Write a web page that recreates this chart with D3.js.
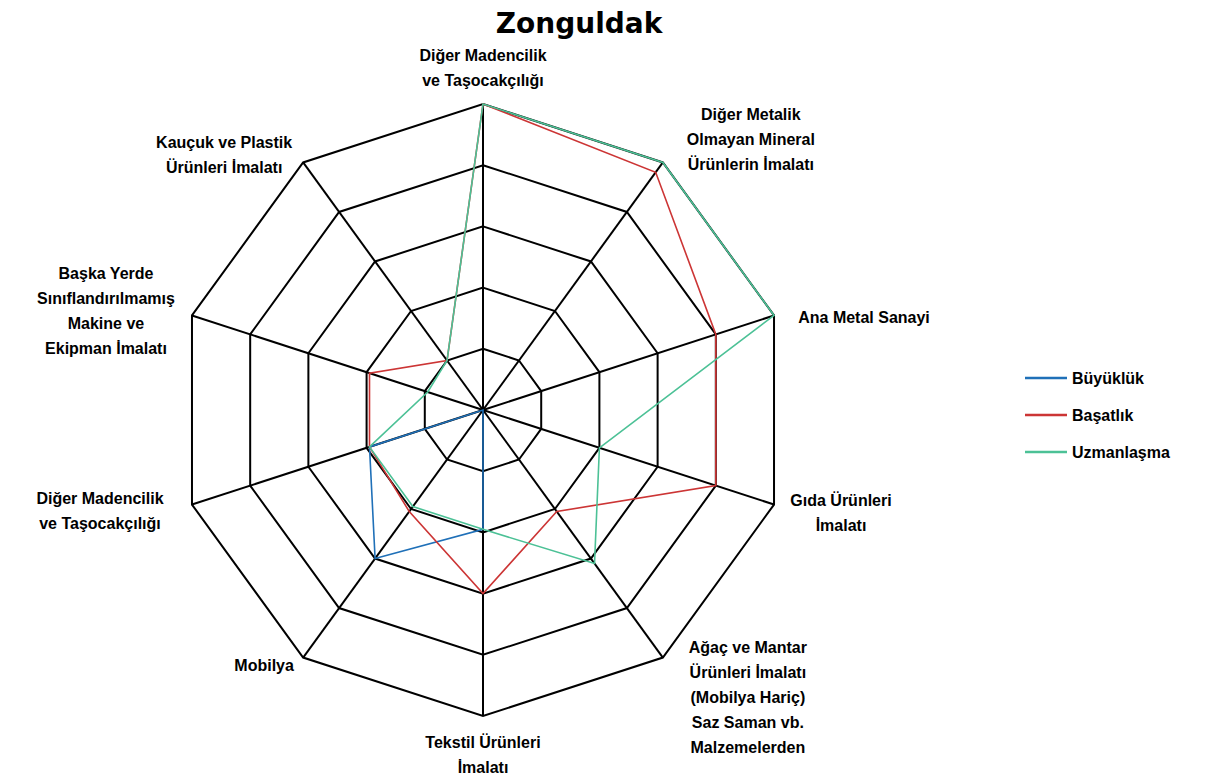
<!DOCTYPE html>
<html><head><meta charset="utf-8">
<script src="https://cdn.jsdelivr.net/npm/d3@7"></script>
<style>
body{margin:0;background:#fff}
text{font-family:"Liberation Sans",Arial,sans-serif;font-weight:bold;fill:#000}
</style>
</head><body>
<svg id="chart" width="1208" height="780"></svg>
<script>
// ---- data ----
const title = "Zonguldak";
const categories = [
  ["Diğer Madencilik","ve Taşocakçılığı"],
  ["Diğer Metalik","Olmayan Mineral","Ürünlerin İmalatı"],
  ["Ana Metal Sanayi"],
  ["Gıda Ürünleri","İmalatı"],
  ["Ağaç ve Mantar","Ürünleri İmalatı","(Mobilya Hariç)","Saz Saman vb.","Malzemelerden"],
  ["Tekstil Ürünleri","İmalatı"],
  ["Mobilya"],
  ["Diğer Madencilik","ve Taşocakçılığı"],
  ["Başka Yerde","Sınıflandırılmamış","Makine ve","Ekipman İmalatı"],
  ["Kauçuk ve Plastik","Ürünleri İmalatı"]
];
const seriesNames = ["Büyüklük","Başatlık","Uzmanlaşma"];
const buyukluk   = [0, 0, 0, 0, 0, 0.39, 0.60, 0.39, 0, 0];
const basatlik   = [1.0, 0.96, 0.80, 0.80, 0.41, 0.60, 0.41, 0.39, 0.39, 0.20];
const uzmanlasma = [1.0, 1.0, 1.0, 0.40, 0.62, 0.39, 0.39, 0.39, 0.19, 0.20];
const levels = [0.2, 0.4, 0.6, 0.8, 1.0];

// ---- layout / style ----
const colors = ["#1f70b8", "#cc3535", "#4cc196"];
const cx = 483, cy = 410, R = 306;
// label block centre offsets from the outer vertex
const labelOffsets = [[0,-36],[88,-23],[90,2],[67,8],[85,40],[0,39],[-39,8],[-92,6],[-86,-5],[-79,-8]];
const lineH = 25;

const svg = d3.select("#chart");
const n = categories.length;
const r = d3.scaleLinear().domain([0, 1]).range([0, R]);
const ang = d3.scaleLinear().domain([0, n]).range([0, 2 * Math.PI]);
const pt = (i, v) => [cx + r(v) * Math.sin(ang(i)), cy - r(v) * Math.cos(ang(i))];

const g = svg.append("g");
// rings
levels.forEach(l => {
  g.append("path")
    .attr("d", d3.line()(d3.range(n).map(i => pt(i, l))) + "Z")
    .attr("fill", "none").attr("stroke", "#000").attr("stroke-width", 2);
});
// spokes
d3.range(n).forEach(i => {
  const p = pt(i, 1);
  g.append("line").attr("x1", cx).attr("y1", cy).attr("x2", p[0]).attr("y2", p[1])
    .attr("stroke", "#000").attr("stroke-width", 2);
});

// series
const series = [buyukluk, basatlik, uzmanlasma];
series.forEach((s, k) => {
  g.append("path")
    .attr("d", d3.line()(s.map((v, i) => pt(i, v))) + "Z")
    .attr("fill", "none").attr("stroke", colors[k]).attr("stroke-width", 1.6)
    .attr("stroke-linejoin", "miter");
});

// labels
categories.forEach((lines, i) => {
  const p = pt(i, 1);
  const bx = p[0] + labelOffsets[i][0], by = p[1] + labelOffsets[i][1];
  const t = svg.append("text").attr("text-anchor", "middle").attr("font-size", 16);
  const y0 = by - (lines.length - 1) * lineH / 2;
  lines.forEach((ln, j) => {
    t.append("tspan").attr("x", bx).attr("y", y0 + j * lineH).attr("dy", "0.35em").text(ln);
  });
});

// title
svg.append("text").attr("x", 579).attr("y", 33).attr("text-anchor", "middle")
  .attr("font-size", 28).style("font-family", "'DejaVu Sans',sans-serif").text(title);

// legend
const lg = svg.append("g").attr("transform", "translate(1025,378)");
seriesNames.forEach((nm, k) => {
  const yy = k * 37;
  lg.append("line").attr("x1", 0).attr("x2", 42).attr("y1", yy).attr("y2", yy)
    .attr("stroke", colors[k]).attr("stroke-width", 2.5);
  lg.append("text").attr("x", 47).attr("y", yy).attr("dy", "0.35em").attr("font-size", 16).text(nm);
});
</script>
</body></html>
